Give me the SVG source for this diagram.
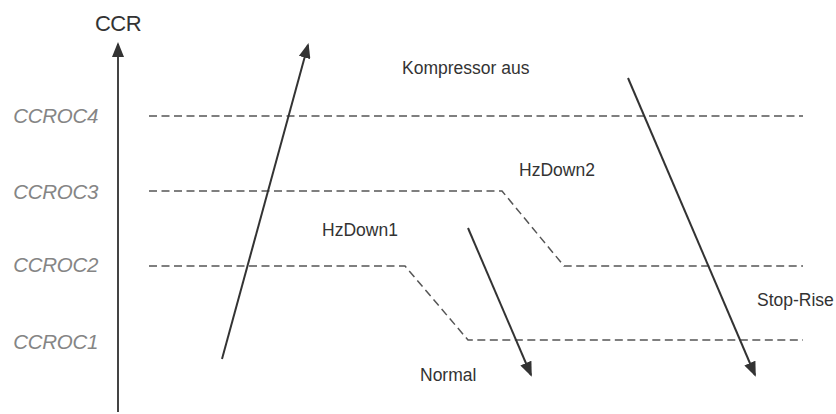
<svg xmlns="http://www.w3.org/2000/svg" width="836" height="414" viewBox="0 0 836 414">
  <style>
    .lvl { font-family: "Liberation Sans", Arial, sans-serif; font-size: 20.5px; font-style: italic; fill: #858585; text-anchor: end; letter-spacing: -0.3px; }
    .lbl { font-family: "Liberation Sans", Arial, sans-serif; font-size: 17.5px; fill: #333333; }
    .dash { fill: none; stroke: #555555; stroke-width: 1.5; stroke-dasharray: 8 4.5; }
    .arr { fill: none; stroke: #333333; stroke-width: 2; marker-end: url(#ah); }
  </style>
  <defs>
    <marker id="ah" viewBox="0 0 15 12" refX="13" refY="6" markerWidth="15" markerHeight="12" markerUnits="userSpaceOnUse" orient="auto">
      <path d="M0,0 L15,6 L0,12 z" fill="#333333"/>
    </marker>
  </defs>
  <rect width="836" height="414" fill="#ffffff"/>

  <g id="axis-label">
    <text x="118" y="31" font-family="Liberation Sans, Arial, sans-serif" font-size="22" fill="#333333" text-anchor="middle" letter-spacing="-0.6">CCR</text>
  </g>
  <g id="ccroc4"><text class="lvl" x="98" y="123">CCROC4</text></g>
  <g id="ccroc3"><text class="lvl" x="98" y="199">CCROC3</text></g>
  <g id="ccroc2"><text class="lvl" x="98" y="272">CCROC2</text></g>
  <g id="ccroc1"><text class="lvl" x="98" y="349">CCROC1</text></g>

  <g id="kompressor-aus"><text class="lbl" x="402" y="74">Kompressor aus</text></g>
  <g id="hzdown2"><text class="lbl" x="519" y="176">HzDown2</text></g>
  <g id="hzdown1"><text class="lbl" x="322" y="236">HzDown1</text></g>
  <g id="normal"><text class="lbl" x="420" y="381">Normal</text></g>
  <g id="stop-rise"><text class="lbl" x="757" y="306">Stop-Rise</text></g>

  <g id="connectors">
    <!-- axis -->
    <line x1="118" y1="412" x2="118" y2="44" stroke="#444444" stroke-width="2" marker-end="url(#ah)"/>
    <!-- threshold lines -->
    <polyline class="dash" points="149,116 803,116"/>
    <polyline class="dash" points="149,191 502,191 564,266 803,266"/>
    <polyline class="dash" points="149,266 405,266 468,340 803,340"/>
    <!-- arrows -->
    <line class="arr" x1="222" y1="359" x2="308" y2="45"/>
    <line class="arr" x1="468" y1="228" x2="531" y2="375"/>
    <line class="arr" x1="628" y1="78" x2="755" y2="375"/>
  </g>
</svg>
